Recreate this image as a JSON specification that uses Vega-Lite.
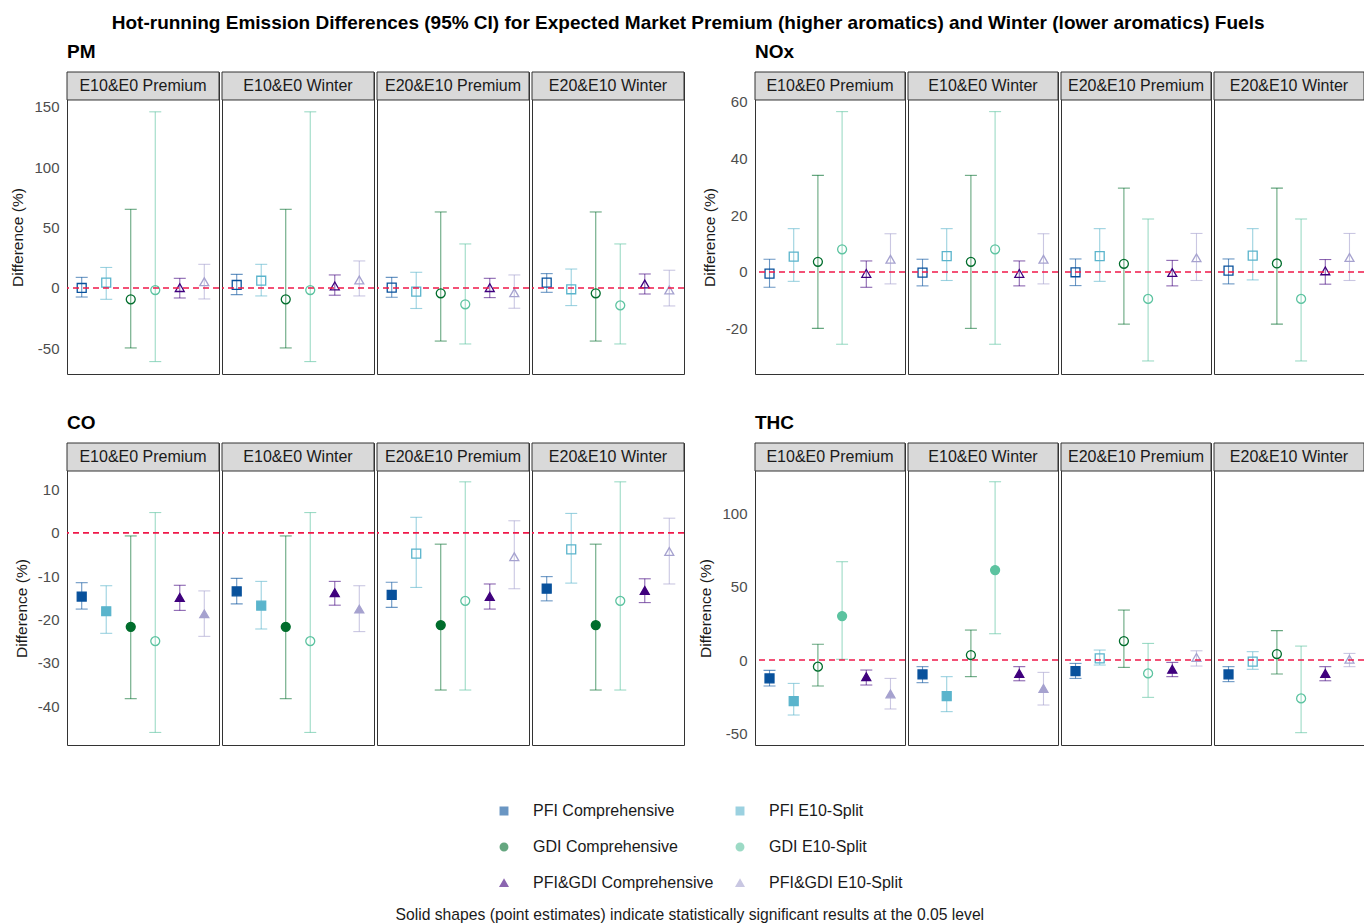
{
  "$schema": "https://vega.github.io/schema/vega-lite/v6.json",
  "padding": {"left": 10, "top": 14, "right": 0, "bottom": 0},
  "title": {"text": "Hot-running Emission Differences (95% CI) for Expected Market Premium (higher aromatics) and Winter (lower aromatics) Fuels", "fontSize": 19, "fontWeight": "bold", "font": "Liberation Sans", "color": "#000000", "anchor": "middle", "offset": 10},
  "datasets": {
    "d": [
      {"p":"PM","cmp":"E10&E0 Premium","s":"PFI Comprehensive","est":0,"lo":-7.5,"hi":8.8,"sig":false},
      {"p":"PM","cmp":"E10&E0 Premium","s":"PFI E10-Split","est":4.4,"lo":-9.4,"hi":17,"sig":false},
      {"p":"PM","cmp":"E10&E0 Premium","s":"GDI Comprehensive","est":-9.4,"lo":-49.7,"hi":65.2,"sig":false},
      {"p":"PM","cmp":"E10&E0 Premium","s":"GDI E10-Split","est":-1.7,"lo":-61,"hi":146,"sig":false},
      {"p":"PM","cmp":"E10&E0 Premium","s":"PFI&GDI Comprehensive","est":0.3,"lo":-8.3,"hi":8,"sig":false},
      {"p":"PM","cmp":"E10&E0 Premium","s":"PFI&GDI E10-Split","est":5.2,"lo":-9.1,"hi":19.6,"sig":false},
      {"p":"PM","cmp":"E10&E0 Winter","s":"PFI Comprehensive","est":2.5,"lo":-5.5,"hi":11.3,"sig":false},
      {"p":"PM","cmp":"E10&E0 Winter","s":"PFI E10-Split","est":6,"lo":-6.6,"hi":19.6,"sig":false},
      {"p":"PM","cmp":"E10&E0 Winter","s":"GDI Comprehensive","est":-9.4,"lo":-49.7,"hi":65.2,"sig":false},
      {"p":"PM","cmp":"E10&E0 Winter","s":"GDI E10-Split","est":-1.7,"lo":-61,"hi":146,"sig":false},
      {"p":"PM","cmp":"E10&E0 Winter","s":"PFI&GDI Comprehensive","est":1.7,"lo":-6,"hi":10.8,"sig":false},
      {"p":"PM","cmp":"E10&E0 Winter","s":"PFI&GDI E10-Split","est":6.6,"lo":-6.6,"hi":22.4,"sig":false},
      {"p":"PM","cmp":"E20&E10 Premium","s":"PFI Comprehensive","est":0.3,"lo":-7.7,"hi":8.8,"sig":false},
      {"p":"PM","cmp":"E20&E10 Premium","s":"PFI E10-Split","est":-3,"lo":-17,"hi":13,"sig":false},
      {"p":"PM","cmp":"E20&E10 Premium","s":"GDI Comprehensive","est":-4.4,"lo":-44,"hi":63,"sig":false},
      {"p":"PM","cmp":"E20&E10 Premium","s":"GDI E10-Split","est":-13.5,"lo":-46.4,"hi":36.5,"sig":false},
      {"p":"PM","cmp":"E20&E10 Premium","s":"PFI&GDI Comprehensive","est":0.3,"lo":-8,"hi":8,"sig":false},
      {"p":"PM","cmp":"E20&E10 Premium","s":"PFI&GDI E10-Split","est":-3.9,"lo":-16.8,"hi":10.8,"sig":false},
      {"p":"PM","cmp":"E20&E10 Winter","s":"PFI Comprehensive","est":4.4,"lo":-3.6,"hi":11.9,"sig":false},
      {"p":"PM","cmp":"E20&E10 Winter","s":"PFI E10-Split","est":-1.1,"lo":-14.6,"hi":15.7,"sig":false},
      {"p":"PM","cmp":"E20&E10 Winter","s":"GDI Comprehensive","est":-4.4,"lo":-44,"hi":63,"sig":false},
      {"p":"PM","cmp":"E20&E10 Winter","s":"GDI E10-Split","est":-14.4,"lo":-46.4,"hi":36.5,"sig":false},
      {"p":"PM","cmp":"E20&E10 Winter","s":"PFI&GDI Comprehensive","est":3.3,"lo":-5,"hi":11.6,"sig":false},
      {"p":"PM","cmp":"E20&E10 Winter","s":"PFI&GDI E10-Split","est":-1.7,"lo":-14.9,"hi":14.7,"sig":false},

      {"p":"NOx","cmp":"E10&E0 Premium","s":"PFI Comprehensive","est":-0.6,"lo":-5.4,"hi":4.5,"sig":false},
      {"p":"NOx","cmp":"E10&E0 Premium","s":"PFI E10-Split","est":5.4,"lo":-3.3,"hi":15.3,"sig":false},
      {"p":"NOx","cmp":"E10&E0 Premium","s":"GDI Comprehensive","est":3.6,"lo":-19.9,"hi":34.1,"sig":false},
      {"p":"NOx","cmp":"E10&E0 Premium","s":"GDI E10-Split","est":8,"lo":-25.5,"hi":56.6,"sig":false},
      {"p":"NOx","cmp":"E10&E0 Premium","s":"PFI&GDI Comprehensive","est":-0.5,"lo":-5.4,"hi":3.9,"sig":false},
      {"p":"NOx","cmp":"E10&E0 Premium","s":"PFI&GDI E10-Split","est":4.5,"lo":-4.2,"hi":13.5,"sig":false},
      {"p":"NOx","cmp":"E10&E0 Winter","s":"PFI Comprehensive","est":-0.2,"lo":-4.9,"hi":4.5,"sig":false},
      {"p":"NOx","cmp":"E10&E0 Winter","s":"PFI E10-Split","est":5.6,"lo":-3,"hi":15.3,"sig":false},
      {"p":"NOx","cmp":"E10&E0 Winter","s":"GDI Comprehensive","est":3.6,"lo":-19.9,"hi":34.1,"sig":false},
      {"p":"NOx","cmp":"E10&E0 Winter","s":"GDI E10-Split","est":8,"lo":-25.5,"hi":56.6,"sig":false},
      {"p":"NOx","cmp":"E10&E0 Winter","s":"PFI&GDI Comprehensive","est":-0.5,"lo":-4.9,"hi":3.9,"sig":false},
      {"p":"NOx","cmp":"E10&E0 Winter","s":"PFI&GDI E10-Split","est":4.5,"lo":-4.2,"hi":13.5,"sig":false},
      {"p":"NOx","cmp":"E20&E10 Premium","s":"PFI Comprehensive","est":-0.1,"lo":-4.8,"hi":4.6,"sig":false},
      {"p":"NOx","cmp":"E20&E10 Premium","s":"PFI E10-Split","est":5.6,"lo":-3.3,"hi":15.3,"sig":false},
      {"p":"NOx","cmp":"E20&E10 Premium","s":"GDI Comprehensive","est":2.9,"lo":-18.4,"hi":29.6,"sig":false},
      {"p":"NOx","cmp":"E20&E10 Premium","s":"GDI E10-Split","est":-9.5,"lo":-31.4,"hi":18.7,"sig":false},
      {"p":"NOx","cmp":"E20&E10 Premium","s":"PFI&GDI Comprehensive","est":-0.2,"lo":-4.9,"hi":4.1,"sig":false},
      {"p":"NOx","cmp":"E20&E10 Premium","s":"PFI&GDI E10-Split","est":5,"lo":-3,"hi":13.6,"sig":false},
      {"p":"NOx","cmp":"E20&E10 Winter","s":"PFI Comprehensive","est":0.5,"lo":-4.2,"hi":4.6,"sig":false},
      {"p":"NOx","cmp":"E20&E10 Winter","s":"PFI E10-Split","est":5.8,"lo":-2.8,"hi":15.3,"sig":false},
      {"p":"NOx","cmp":"E20&E10 Winter","s":"GDI Comprehensive","est":3,"lo":-18.4,"hi":29.6,"sig":false},
      {"p":"NOx","cmp":"E20&E10 Winter","s":"GDI E10-Split","est":-9.5,"lo":-31.4,"hi":18.7,"sig":false},
      {"p":"NOx","cmp":"E20&E10 Winter","s":"PFI&GDI Comprehensive","est":0.4,"lo":-4.3,"hi":4.4,"sig":false},
      {"p":"NOx","cmp":"E20&E10 Winter","s":"PFI&GDI E10-Split","est":5.1,"lo":-3,"hi":13.6,"sig":false},

      {"p":"CO","cmp":"E10&E0 Premium","s":"PFI Comprehensive","est":-14.7,"lo":-17.6,"hi":-11.5,"sig":true},
      {"p":"CO","cmp":"E10&E0 Premium","s":"PFI E10-Split","est":-18.1,"lo":-23.2,"hi":-12.2,"sig":true},
      {"p":"CO","cmp":"E10&E0 Premium","s":"GDI Comprehensive","est":-21.7,"lo":-38.3,"hi":-0.7,"sig":true},
      {"p":"CO","cmp":"E10&E0 Premium","s":"GDI E10-Split","est":-25,"lo":-46.1,"hi":4.7,"sig":false},
      {"p":"CO","cmp":"E10&E0 Premium","s":"PFI&GDI Comprehensive","est":-14.9,"lo":-17.9,"hi":-12.1,"sig":true},
      {"p":"CO","cmp":"E10&E0 Premium","s":"PFI&GDI E10-Split","est":-18.7,"lo":-23.9,"hi":-13.4,"sig":true},
      {"p":"CO","cmp":"E10&E0 Winter","s":"PFI Comprehensive","est":-13.5,"lo":-16.4,"hi":-10.5,"sig":true},
      {"p":"CO","cmp":"E10&E0 Winter","s":"PFI E10-Split","est":-16.8,"lo":-22.2,"hi":-11.2,"sig":true},
      {"p":"CO","cmp":"E10&E0 Winter","s":"GDI Comprehensive","est":-21.7,"lo":-38.3,"hi":-0.7,"sig":true},
      {"p":"CO","cmp":"E10&E0 Winter","s":"GDI E10-Split","est":-25,"lo":-46.1,"hi":4.7,"sig":false},
      {"p":"CO","cmp":"E10&E0 Winter","s":"PFI&GDI Comprehensive","est":-13.8,"lo":-16.7,"hi":-11.2,"sig":true},
      {"p":"CO","cmp":"E10&E0 Winter","s":"PFI&GDI E10-Split","est":-17.6,"lo":-22.8,"hi":-12.2,"sig":true},
      {"p":"CO","cmp":"E20&E10 Premium","s":"PFI Comprehensive","est":-14.3,"lo":-17.2,"hi":-11.4,"sig":true},
      {"p":"CO","cmp":"E20&E10 Premium","s":"PFI E10-Split","est":-4.8,"lo":-12.6,"hi":3.6,"sig":false},
      {"p":"CO","cmp":"E20&E10 Premium","s":"GDI Comprehensive","est":-21.3,"lo":-36.3,"hi":-2.6,"sig":true},
      {"p":"CO","cmp":"E20&E10 Premium","s":"GDI E10-Split","est":-15.7,"lo":-36.3,"hi":11.8,"sig":false},
      {"p":"CO","cmp":"E20&E10 Premium","s":"PFI&GDI Comprehensive","est":-14.7,"lo":-17.6,"hi":-11.8,"sig":true},
      {"p":"CO","cmp":"E20&E10 Premium","s":"PFI&GDI E10-Split","est":-5.5,"lo":-12.9,"hi":2.8,"sig":false},
      {"p":"CO","cmp":"E20&E10 Winter","s":"PFI Comprehensive","est":-12.9,"lo":-15.7,"hi":-10.1,"sig":true},
      {"p":"CO","cmp":"E20&E10 Winter","s":"PFI E10-Split","est":-3.8,"lo":-11.6,"hi":4.5,"sig":false},
      {"p":"CO","cmp":"E20&E10 Winter","s":"GDI Comprehensive","est":-21.3,"lo":-36.3,"hi":-2.6,"sig":true},
      {"p":"CO","cmp":"E20&E10 Winter","s":"GDI E10-Split","est":-15.7,"lo":-36.3,"hi":11.8,"sig":false},
      {"p":"CO","cmp":"E20&E10 Winter","s":"PFI&GDI Comprehensive","est":-13.3,"lo":-16.1,"hi":-10.6,"sig":true},
      {"p":"CO","cmp":"E20&E10 Winter","s":"PFI&GDI E10-Split","est":-4.3,"lo":-11.8,"hi":3.4,"sig":false},

      {"p":"THC","cmp":"E10&E0 Premium","s":"PFI Comprehensive","est":-12.5,"lo":-17.7,"hi":-7,"sig":true},
      {"p":"THC","cmp":"E10&E0 Premium","s":"PFI E10-Split","est":-27.9,"lo":-37.4,"hi":-15.9,"sig":true},
      {"p":"THC","cmp":"E10&E0 Premium","s":"GDI Comprehensive","est":-4.5,"lo":-17.7,"hi":10.7,"sig":false},
      {"p":"THC","cmp":"E10&E0 Premium","s":"GDI E10-Split","est":29.9,"lo":0.5,"hi":66.9,"sig":true},
      {"p":"THC","cmp":"E10&E0 Premium","s":"PFI&GDI Comprehensive","est":-11.3,"lo":-17,"hi":-6.8,"sig":true},
      {"p":"THC","cmp":"E10&E0 Premium","s":"PFI&GDI E10-Split","est":-23.1,"lo":-33.3,"hi":-12.5,"sig":true},
      {"p":"THC","cmp":"E10&E0 Winter","s":"PFI Comprehensive","est":-9.8,"lo":-15.4,"hi":-4.5,"sig":true},
      {"p":"THC","cmp":"E10&E0 Winter","s":"PFI E10-Split","est":-24.5,"lo":-35.1,"hi":-11.3,"sig":true},
      {"p":"THC","cmp":"E10&E0 Winter","s":"GDI Comprehensive","est":3.4,"lo":-11.3,"hi":20.4,"sig":false},
      {"p":"THC","cmp":"E10&E0 Winter","s":"GDI E10-Split","est":61.2,"lo":17.9,"hi":121.3,"sig":true},
      {"p":"THC","cmp":"E10&E0 Winter","s":"PFI&GDI Comprehensive","est":-9.1,"lo":-14.1,"hi":-4.5,"sig":true},
      {"p":"THC","cmp":"E10&E0 Winter","s":"PFI&GDI E10-Split","est":-19.3,"lo":-30.6,"hi":-8.4,"sig":true},
      {"p":"THC","cmp":"E20&E10 Premium","s":"PFI Comprehensive","est":-7.5,"lo":-12.5,"hi":-2.3,"sig":true},
      {"p":"THC","cmp":"E20&E10 Premium","s":"PFI E10-Split","est":1.1,"lo":-3.4,"hi":6.8,"sig":false},
      {"p":"THC","cmp":"E20&E10 Premium","s":"GDI Comprehensive","est":12.9,"lo":-5,"hi":34,"sig":false},
      {"p":"THC","cmp":"E20&E10 Premium","s":"GDI E10-Split","est":-9.1,"lo":-25.4,"hi":11.3,"sig":false},
      {"p":"THC","cmp":"E20&E10 Premium","s":"PFI&GDI Comprehensive","est":-6.3,"lo":-11.3,"hi":-1.6,"sig":true},
      {"p":"THC","cmp":"E20&E10 Premium","s":"PFI&GDI E10-Split","est":1.8,"lo":-4.1,"hi":6.3,"sig":false},
      {"p":"THC","cmp":"E20&E10 Winter","s":"PFI Comprehensive","est":-9.8,"lo":-14.7,"hi":-4.5,"sig":true},
      {"p":"THC","cmp":"E20&E10 Winter","s":"PFI E10-Split","est":-1.1,"lo":-6.3,"hi":5.7,"sig":false},
      {"p":"THC","cmp":"E20&E10 Winter","s":"GDI Comprehensive","est":4.1,"lo":-9.5,"hi":20,"sig":false},
      {"p":"THC","cmp":"E20&E10 Winter","s":"GDI E10-Split","est":-26.1,"lo":-49.4,"hi":9.5,"sig":false},
      {"p":"THC","cmp":"E20&E10 Winter","s":"PFI&GDI Comprehensive","est":-9.1,"lo":-14.1,"hi":-4.5,"sig":true},
      {"p":"THC","cmp":"E20&E10 Winter","s":"PFI&GDI E10-Split","est":0.5,"lo":-4.5,"hi":4.5,"sig":false}
    ]
  },
  "spacing": 39,
  "vconcat": [
    {
      "spacing": 16,
      "hconcat": [
        {
          "title": {"text": "PM", "anchor": "start", "frame": "group", "fontSize": 19, "fontWeight": "bold", "color": "#000000", "offset": 9},
          "data": {"name": "d"},
          "transform": [{"filter": "datum.p === 'PM'"}],
          "facet": {"column": {"field": "cmp", "type": "nominal", "header": null, "sort": ["E10&E0 Premium", "E10&E0 Winter", "E20&E10 Premium", "E20&E10 Winter"]}},
          "spacing": -1,
          "spec": {
            "width": 152, "height": 302,
            "view": {"fill": "#ffffff", "stroke": "#333333"},
            "layer": [
              {"transform": [{"aggregate": [{"op": "count", "as": "n"}], "groupby": ["cmp"]}],
               "mark": {"type": "rect", "fill": "#d9d9d9", "stroke": "#333333", "strokeWidth": 1},
               "encoding": {"y": {"datum": 155.8, "type": "quantitative"}, "y2": {"datum": 179}}},
              {"transform": [{"aggregate": [{"op": "count", "as": "n"}], "groupby": ["cmp"]}],
               "mark": {"type": "text", "fontSize": 16, "color": "#1a1a1a"},
               "encoding": {"y": {"datum": 167.4, "type": "quantitative"}, "text": {"field": "cmp", "type": "nominal"}}},
              {"mark": {"type": "rule", "strokeWidth": 1.1, "opacity": 0.6},
               "encoding": {"x": {"field": "s", "type": "nominal", "axis": null, "scale": {"type": "point", "padding": 0.6, "domain": ["PFI Comprehensive", "PFI E10-Split", "GDI Comprehensive", "GDI E10-Split", "PFI&GDI Comprehensive", "PFI&GDI E10-Split"]}},
                            "y": {"field": "lo", "type": "quantitative", "title": "Difference (%)", "scale": {"domain": [-71.3, 179], "nice": false, "zero": false}, "axis": {"values": [-50, 0, 50, 100, 150], "labelExpr": "'' + datum.value", "titleY": 165}},
                            "y2": {"field": "hi"},
                            "color": {"field": "s", "type": "nominal", "scale": {"domain": ["PFI Comprehensive", "PFI E10-Split", "GDI Comprehensive", "GDI E10-Split", "PFI&GDI Comprehensive", "PFI&GDI E10-Split"], "range": ["#08519c", "#5ab4cc", "#006d2c", "#5cc3a0", "#3f007d", "#a6a2cf"]},
                                      "legend": {"title": null, "orient": "none", "legendX": 429, "legendY": 731, "direction": "horizontal", "columns": 2, "labelLimit": 400, "labelFontSize": 16, "labelColor": "#1a1a1a", "symbolSize": 55, "symbolOpacity": 1, "labelOffset": 21, "rowPadding": 20, "columnPadding": 18}}}},
              {"mark": {"type": "tick", "thickness": 1.1, "size": 12, "opacity": 0.6},
               "encoding": {"x": {"field": "s", "type": "nominal"},
                            "y": {"field": "lo", "type": "quantitative", "title": "Difference (%)"},
                            "color": {"field": "s", "type": "nominal"}}},
              {"mark": {"type": "tick", "thickness": 1.1, "size": 12, "opacity": 0.6},
               "encoding": {"x": {"field": "s", "type": "nominal"},
                            "y": {"field": "hi", "type": "quantitative", "title": "Difference (%)"},
                            "color": {"field": "s", "type": "nominal"}}},
              {"mark": {"type": "point", "filled": true, "size": 80, "strokeWidth": 1.3, "opacity": 1},
               "encoding": {"x": {"field": "s", "type": "nominal"},
                            "y": {"field": "est", "type": "quantitative", "title": "Difference (%)"},
                            "color": {"field": "s", "type": "nominal"},
                            "stroke": {"field": "s", "type": "nominal", "scale": {"domain": ["PFI Comprehensive", "PFI E10-Split", "GDI Comprehensive", "GDI E10-Split", "PFI&GDI Comprehensive", "PFI&GDI E10-Split"], "range": ["#08519c", "#5ab4cc", "#006d2c", "#5cc3a0", "#3f007d", "#a6a2cf"]}},
                            "shape": {"field": "s", "type": "nominal", "scale": {"domain": ["PFI Comprehensive", "PFI E10-Split", "GDI Comprehensive", "GDI E10-Split", "PFI&GDI Comprehensive", "PFI&GDI E10-Split"], "range": ["square", "square", "circle", "circle", "triangle-up", "triangle-up"]}},
                            "fillOpacity": {"condition": {"test": "datum.sig", "value": 1}, "value": 0}}},
              {"transform": [{"aggregate": [{"op": "count", "as": "n"}], "groupby": ["cmp"]}],
               "mark": {"type": "rule", "color": "#f0184a", "strokeDash": [6, 4], "strokeWidth": 1.6},
               "encoding": {"y": {"datum": 0}}}
            ]
          }
        },
        {
          "title": {"text": "NOx", "anchor": "start", "frame": "group", "fontSize": 19, "fontWeight": "bold", "color": "#000000", "offset": 9},
          "data": {"name": "d"},
          "transform": [{"filter": "datum.p === 'NOx'"}],
          "facet": {"column": {"field": "cmp", "type": "nominal", "header": null, "sort": ["E10&E0 Premium", "E10&E0 Winter", "E20&E10 Premium", "E20&E10 Winter"]}},
          "spacing": -1,
          "spec": {
            "width": 150, "height": 302,
            "view": {"fill": "#ffffff", "stroke": "#333333"},
            "layer": [
              {"transform": [{"aggregate": [{"op": "count", "as": "n"}], "groupby": ["cmp"]}],
               "mark": {"type": "rect", "fill": "#d9d9d9", "stroke": "#333333", "strokeWidth": 1},
               "encoding": {"y": {"datum": 60.7, "type": "quantitative"}, "y2": {"datum": 70.58}}},
              {"transform": [{"aggregate": [{"op": "count", "as": "n"}], "groupby": ["cmp"]}],
               "mark": {"type": "text", "fontSize": 16, "color": "#1a1a1a"},
               "encoding": {"y": {"datum": 65.64, "type": "quantitative"}, "text": {"field": "cmp", "type": "nominal"}}},
              {"mark": {"type": "rule", "strokeWidth": 1.1, "opacity": 0.6},
               "encoding": {"x": {"field": "s", "type": "nominal", "axis": null, "scale": {"type": "point", "padding": 0.6, "domain": ["PFI Comprehensive", "PFI E10-Split", "GDI Comprehensive", "GDI E10-Split", "PFI&GDI Comprehensive", "PFI&GDI E10-Split"]}},
                            "y": {"field": "lo", "type": "quantitative", "title": "Difference (%)", "scale": {"domain": [-36, 70.58], "nice": false, "zero": false}, "axis": {"values": [-20, 0, 20, 40, 60], "labelExpr": "'' + datum.value", "titleY": 165}},
                            "y2": {"field": "hi"},
                            "color": {"field": "s", "type": "nominal", "scale": {"domain": ["PFI Comprehensive", "PFI E10-Split", "GDI Comprehensive", "GDI E10-Split", "PFI&GDI Comprehensive", "PFI&GDI E10-Split"], "range": ["#08519c", "#5ab4cc", "#006d2c", "#5cc3a0", "#3f007d", "#a6a2cf"]},
                                      "legend": {"title": null, "orient": "none", "legendX": 429, "legendY": 731, "direction": "horizontal", "columns": 2, "labelLimit": 400, "labelFontSize": 16, "labelColor": "#1a1a1a", "symbolSize": 55, "symbolOpacity": 1, "labelOffset": 21, "rowPadding": 20, "columnPadding": 18}}}},
              {"mark": {"type": "tick", "thickness": 1.1, "size": 12, "opacity": 0.6},
               "encoding": {"x": {"field": "s", "type": "nominal"},
                            "y": {"field": "lo", "type": "quantitative", "title": "Difference (%)"},
                            "color": {"field": "s", "type": "nominal"}}},
              {"mark": {"type": "tick", "thickness": 1.1, "size": 12, "opacity": 0.6},
               "encoding": {"x": {"field": "s", "type": "nominal"},
                            "y": {"field": "hi", "type": "quantitative", "title": "Difference (%)"},
                            "color": {"field": "s", "type": "nominal"}}},
              {"mark": {"type": "point", "filled": true, "size": 80, "strokeWidth": 1.3, "opacity": 1},
               "encoding": {"x": {"field": "s", "type": "nominal"},
                            "y": {"field": "est", "type": "quantitative", "title": "Difference (%)"},
                            "color": {"field": "s", "type": "nominal"},
                            "stroke": {"field": "s", "type": "nominal", "scale": {"domain": ["PFI Comprehensive", "PFI E10-Split", "GDI Comprehensive", "GDI E10-Split", "PFI&GDI Comprehensive", "PFI&GDI E10-Split"], "range": ["#08519c", "#5ab4cc", "#006d2c", "#5cc3a0", "#3f007d", "#a6a2cf"]}},
                            "shape": {"field": "s", "type": "nominal", "scale": {"domain": ["PFI Comprehensive", "PFI E10-Split", "GDI Comprehensive", "GDI E10-Split", "PFI&GDI Comprehensive", "PFI&GDI E10-Split"], "range": ["square", "square", "circle", "circle", "triangle-up", "triangle-up"]}},
                            "fillOpacity": {"condition": {"test": "datum.sig", "value": 1}, "value": 0}}},
              {"transform": [{"aggregate": [{"op": "count", "as": "n"}], "groupby": ["cmp"]}],
               "mark": {"type": "rule", "color": "#f0184a", "strokeDash": [6, 4], "strokeWidth": 1.6},
               "encoding": {"y": {"datum": 0}}}
            ]
          }
        }
      ]
    },
    {
      "spacing": 12,
      "title": {"text": "Solid shapes (point estimates) indicate statistically significant results at the 0.05 level", "orient": "bottom", "anchor": "middle", "frame": "bounds", "fontSize": 15.7, "fontWeight": "normal", "color": "#1a1a1a", "offset": 162},
      "hconcat": [
        {
          "title": {"text": "CO", "anchor": "start", "frame": "group", "fontSize": 19, "fontWeight": "bold", "color": "#000000", "offset": 9},
          "data": {"name": "d"},
          "transform": [{"filter": "datum.p === 'CO'"}],
          "facet": {"column": {"field": "cmp", "type": "nominal", "header": null, "sort": ["E10&E0 Premium", "E10&E0 Winter", "E20&E10 Premium", "E20&E10 Winter"]}},
          "spacing": -1,
          "spec": {
            "width": 152, "height": 302,
            "view": {"fill": "#ffffff", "stroke": "#333333"},
            "layer": [
              {"transform": [{"aggregate": [{"op": "count", "as": "n"}], "groupby": ["cmp"]}],
               "mark": {"type": "rect", "fill": "#d9d9d9", "stroke": "#333333", "strokeWidth": 1},
               "encoding": {"y": {"datum": 14.3, "type": "quantitative"}, "y2": {"datum": 20.77}}},
              {"transform": [{"aggregate": [{"op": "count", "as": "n"}], "groupby": ["cmp"]}],
               "mark": {"type": "text", "fontSize": 16, "color": "#1a1a1a"},
               "encoding": {"y": {"datum": 17.53, "type": "quantitative"}, "text": {"field": "cmp", "type": "nominal"}}},
              {"mark": {"type": "rule", "strokeWidth": 1.1, "opacity": 0.6},
               "encoding": {"x": {"field": "s", "type": "nominal", "axis": null, "scale": {"type": "point", "padding": 0.6, "domain": ["PFI Comprehensive", "PFI E10-Split", "GDI Comprehensive", "GDI E10-Split", "PFI&GDI Comprehensive", "PFI&GDI E10-Split"]}},
                            "y": {"field": "lo", "type": "quantitative", "title": "Difference (%)", "scale": {"domain": [-49, 20.77], "nice": false, "zero": false}, "axis": {"values": [-40, -30, -20, -10, 0, 10], "labelExpr": "'' + datum.value", "titleY": 165}},
                            "y2": {"field": "hi"},
                            "color": {"field": "s", "type": "nominal", "scale": {"domain": ["PFI Comprehensive", "PFI E10-Split", "GDI Comprehensive", "GDI E10-Split", "PFI&GDI Comprehensive", "PFI&GDI E10-Split"], "range": ["#08519c", "#5ab4cc", "#006d2c", "#5cc3a0", "#3f007d", "#a6a2cf"]},
                                      "legend": {"title": null, "orient": "none", "legendX": 429, "legendY": 731, "direction": "horizontal", "columns": 2, "labelLimit": 400, "labelFontSize": 16, "labelColor": "#1a1a1a", "symbolSize": 55, "symbolOpacity": 1, "labelOffset": 21, "rowPadding": 20, "columnPadding": 18}}}},
              {"mark": {"type": "tick", "thickness": 1.1, "size": 12, "opacity": 0.6},
               "encoding": {"x": {"field": "s", "type": "nominal"},
                            "y": {"field": "lo", "type": "quantitative", "title": "Difference (%)"},
                            "color": {"field": "s", "type": "nominal"}}},
              {"mark": {"type": "tick", "thickness": 1.1, "size": 12, "opacity": 0.6},
               "encoding": {"x": {"field": "s", "type": "nominal"},
                            "y": {"field": "hi", "type": "quantitative", "title": "Difference (%)"},
                            "color": {"field": "s", "type": "nominal"}}},
              {"mark": {"type": "point", "filled": true, "size": 80, "strokeWidth": 1.3, "opacity": 1},
               "encoding": {"x": {"field": "s", "type": "nominal"},
                            "y": {"field": "est", "type": "quantitative", "title": "Difference (%)"},
                            "color": {"field": "s", "type": "nominal"},
                            "stroke": {"field": "s", "type": "nominal", "scale": {"domain": ["PFI Comprehensive", "PFI E10-Split", "GDI Comprehensive", "GDI E10-Split", "PFI&GDI Comprehensive", "PFI&GDI E10-Split"], "range": ["#08519c", "#5ab4cc", "#006d2c", "#5cc3a0", "#3f007d", "#a6a2cf"]}},
                            "shape": {"field": "s", "type": "nominal", "scale": {"domain": ["PFI Comprehensive", "PFI E10-Split", "GDI Comprehensive", "GDI E10-Split", "PFI&GDI Comprehensive", "PFI&GDI E10-Split"], "range": ["square", "square", "circle", "circle", "triangle-up", "triangle-up"]}},
                            "fillOpacity": {"condition": {"test": "datum.sig", "value": 1}, "value": 0}}},
              {"transform": [{"aggregate": [{"op": "count", "as": "n"}], "groupby": ["cmp"]}],
               "mark": {"type": "rule", "color": "#f0184a", "strokeDash": [6, 4], "strokeWidth": 1.6},
               "encoding": {"y": {"datum": 0}}}
            ]
          }
        },
        {
          "title": {"text": "THC", "anchor": "start", "frame": "group", "fontSize": 19, "fontWeight": "bold", "color": "#000000", "offset": 9},
          "data": {"name": "d"},
          "transform": [{"filter": "datum.p === 'THC'"}],
          "facet": {"column": {"field": "cmp", "type": "nominal", "header": null, "sort": ["E10&E0 Premium", "E10&E0 Winter", "E20&E10 Premium", "E20&E10 Winter"]}},
          "spacing": -1,
          "spec": {
            "width": 150, "height": 302,
            "view": {"fill": "#ffffff", "stroke": "#333333"},
            "layer": [
              {"transform": [{"aggregate": [{"op": "count", "as": "n"}], "groupby": ["cmp"]}],
               "mark": {"type": "rect", "fill": "#d9d9d9", "stroke": "#333333", "strokeWidth": 1},
               "encoding": {"y": {"datum": 128.6, "type": "quantitative"}, "y2": {"datum": 147.65}}},
              {"transform": [{"aggregate": [{"op": "count", "as": "n"}], "groupby": ["cmp"]}],
               "mark": {"type": "text", "fontSize": 16, "color": "#1a1a1a"},
               "encoding": {"y": {"datum": 138.1, "type": "quantitative"}, "text": {"field": "cmp", "type": "nominal"}}},
              {"mark": {"type": "rule", "strokeWidth": 1.1, "opacity": 0.6},
               "encoding": {"x": {"field": "s", "type": "nominal", "axis": null, "scale": {"type": "point", "padding": 0.6, "domain": ["PFI Comprehensive", "PFI E10-Split", "GDI Comprehensive", "GDI E10-Split", "PFI&GDI Comprehensive", "PFI&GDI E10-Split"]}},
                            "y": {"field": "lo", "type": "quantitative", "title": "Difference (%)", "scale": {"domain": [-57.8, 147.65], "nice": false, "zero": false}, "axis": {"values": [-50, 0, 50, 100], "labelExpr": "'' + datum.value", "titleY": 165}},
                            "y2": {"field": "hi"},
                            "color": {"field": "s", "type": "nominal", "scale": {"domain": ["PFI Comprehensive", "PFI E10-Split", "GDI Comprehensive", "GDI E10-Split", "PFI&GDI Comprehensive", "PFI&GDI E10-Split"], "range": ["#08519c", "#5ab4cc", "#006d2c", "#5cc3a0", "#3f007d", "#a6a2cf"]},
                                      "legend": {"title": null, "orient": "none", "legendX": 429, "legendY": 731, "direction": "horizontal", "columns": 2, "labelLimit": 400, "labelFontSize": 16, "labelColor": "#1a1a1a", "symbolSize": 55, "symbolOpacity": 1, "labelOffset": 21, "rowPadding": 20, "columnPadding": 18}}}},
              {"mark": {"type": "tick", "thickness": 1.1, "size": 12, "opacity": 0.6},
               "encoding": {"x": {"field": "s", "type": "nominal"},
                            "y": {"field": "lo", "type": "quantitative", "title": "Difference (%)"},
                            "color": {"field": "s", "type": "nominal"}}},
              {"mark": {"type": "tick", "thickness": 1.1, "size": 12, "opacity": 0.6},
               "encoding": {"x": {"field": "s", "type": "nominal"},
                            "y": {"field": "hi", "type": "quantitative", "title": "Difference (%)"},
                            "color": {"field": "s", "type": "nominal"}}},
              {"mark": {"type": "point", "filled": true, "size": 80, "strokeWidth": 1.3, "opacity": 1},
               "encoding": {"x": {"field": "s", "type": "nominal"},
                            "y": {"field": "est", "type": "quantitative", "title": "Difference (%)"},
                            "color": {"field": "s", "type": "nominal"},
                            "stroke": {"field": "s", "type": "nominal", "scale": {"domain": ["PFI Comprehensive", "PFI E10-Split", "GDI Comprehensive", "GDI E10-Split", "PFI&GDI Comprehensive", "PFI&GDI E10-Split"], "range": ["#08519c", "#5ab4cc", "#006d2c", "#5cc3a0", "#3f007d", "#a6a2cf"]}},
                            "shape": {"field": "s", "type": "nominal", "scale": {"domain": ["PFI Comprehensive", "PFI E10-Split", "GDI Comprehensive", "GDI E10-Split", "PFI&GDI Comprehensive", "PFI&GDI E10-Split"], "range": ["square", "square", "circle", "circle", "triangle-up", "triangle-up"]}},
                            "fillOpacity": {"condition": {"test": "datum.sig", "value": 1}, "value": 0}}},
              {"transform": [{"aggregate": [{"op": "count", "as": "n"}], "groupby": ["cmp"]}],
               "mark": {"type": "rule", "color": "#f0184a", "strokeDash": [6, 4], "strokeWidth": 1.6},
               "encoding": {"y": {"datum": 0}}}
            ]
          }
        }
      ]
    }
  ],
  "config": {
    "font": "Liberation Sans",
    "view": {"stroke": null},
    "axis": {"labelFontSize": 15, "labelColor": "#4d4d4d", "labelFont": "Liberation Sans", "ticks": false, "domain": false, "grid": false, "labelPadding": 6, "titleFontSize": 15.5, "titleFontWeight": "normal", "titleColor": "#1a1a1a", "titleFont": "Liberation Sans", "titlePadding": 8},
    "legend": {"labelFont": "Liberation Sans"}
  }
}
